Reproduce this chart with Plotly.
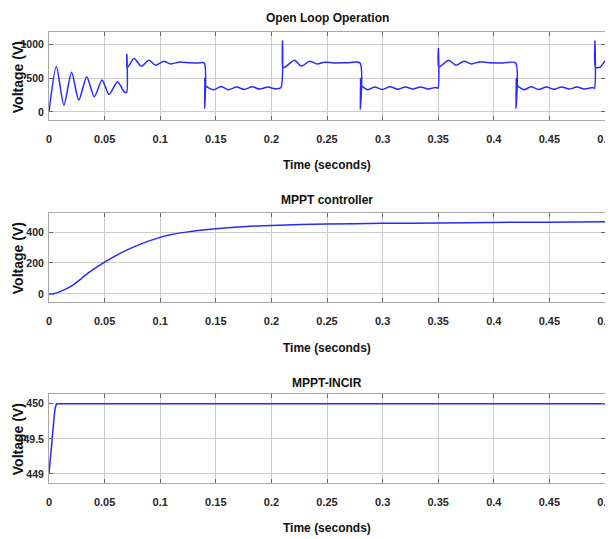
import plotly.graph_objects as go

# ---------------- data ----------------
x_ticks = [0, 0.05, 0.1, 0.15, 0.2, 0.25, 0.3, 0.35, 0.4, 0.45, 0.5]
x_tick_text = ["0", "0.05", "0.1", "0.15", "0.2", "0.25", "0.3", "0.35", "0.4", "0.45", "0.5"]

titles = ["Open Loop Operation", "MPPT controller", "MPPT-INCIR"]

# Open loop operation (time in s, voltage in V)
open_t = [0, 0.0066, 0.0134, 0.0203, 0.0268, 0.0339, 0.0407, 0.0477, 0.054, 0.0616, 0.0676, 0.0698,
          0.07, 0.0703, 0.0765, 0.083, 0.0899, 0.0959, 0.1033, 0.1093, 0.118, 0.126, 0.134, 0.1396,
          0.14, 0.1402, 0.1405, 0.148, 0.1548, 0.1613, 0.1688, 0.1754, 0.1828, 0.1895, 0.197, 0.203, 0.2085,
          0.21, 0.2103, 0.212, 0.2209, 0.2268, 0.2343, 0.2411, 0.2477, 0.256, 0.268, 0.2796,
          0.28, 0.2802, 0.2805, 0.2864, 0.2928, 0.2995, 0.3068, 0.3135, 0.3205, 0.3272, 0.3342, 0.341, 0.3475, 0.3498,
          0.3502, 0.3506, 0.3593, 0.366, 0.3732, 0.38, 0.387, 0.396, 0.408, 0.4196,
          0.42, 0.4202, 0.4205, 0.427, 0.4335, 0.4403, 0.4472, 0.454, 0.461, 0.4678, 0.4745, 0.4815, 0.4885, 0.4905,
          0.491, 0.4915, 0.4955, 0.5]
open_v = [0, 675, 100, 590, 175, 525, 225, 475, 260, 450, 300, 290,
          860, 655, 795, 680, 770, 695, 755, 715, 745, 732, 730, 730,
          55, 510, 395, 330, 380, 330, 370, 335, 375, 340, 370, 345, 360,
          1055, 665, 665, 770, 680, 755, 715, 740, 730, 732, 730,
          40, 500, 405, 330, 372, 335, 375, 338, 372, 340, 370, 342, 365, 355,
          945, 665, 770, 695, 755, 715, 745, 732, 730, 730,
          55, 500, 405, 330, 375, 335, 372, 338, 372, 340, 370, 342, 362, 355,
          1055, 665, 665, 765]

# MPPT controller
mppt_t = [0, 0.004, 0.01, 0.0215, 0.036, 0.05, 0.066, 0.0807, 0.0948, 0.109, 0.125, 0.15, 0.175, 0.2,
          0.25, 0.3, 0.35, 0.4, 0.45, 0.5]
mppt_v = [0, 2, 15, 57, 139, 205, 270, 317, 354, 382, 401, 421, 434, 443, 452, 456, 459, 462, 464, 467]

# MPPT-INCIR
incir_t = [0, 0.002, 0.004, 0.0055, 0.007, 0.01, 0.5]
incir_v = [449, 449.35, 449.7, 449.93, 450, 450, 450]

y_ticks = [[0, 500, 1000], [0, 200, 400], [449, 449.5, 450]]
y_tick_text = [["0", "500", "1000"], ["0", "200", "400"], ["449", "449.5", "450"]]
y_ranges = [[-120, 1190], [-52, 523], [448.87, 450.14]]

# ---------------- figure ----------------
# page body adds an 8px margin; figure sized to fill the rest of the 613x539 window
W, H = 605, 531
L, R = 41, 4
PW = W - L - R
fig = go.Figure()

line_color = "rgb(40,40,255)"
series = [(open_t, open_v), (mppt_t, mppt_v), (incir_t, incir_v)]
for i, (t, v) in enumerate(series):
    fig.add_trace(go.Scatter(
        x=t, y=v, mode="lines",
        line=dict(color=line_color, width=1.5, shape="spline", smoothing=0.7),
        xaxis="x" if i == 0 else f"x{i+1}",
        yaxis="y" if i == 0 else f"y{i+1}",
        showlegend=False, hoverinfo="skip"))

# pixel positions (figure coords) of plot areas (top, bottom)
panels_px = [(24, 112), (205, 294), (386, 475)]
title_px = [10.5, 192, 375]
xlabel_px = [157, 340, 520]
ylabel_px = [69, 250, 431]
center_x = 321  # horizontal centre of titles in figure px

base_font = "Liberation Sans, Arial, sans-serif"
xtick_font = dict(family=base_font, size=11, color="#262626", weight="bold")
ytick_font = dict(family=base_font, size=10.5, color="#262626", weight="bold")
grid_col = "#cccccc"
frame_col = "#a8a8a8"

layout = dict(width=W, height=H, margin=dict(l=L, r=R, t=0, b=0),
              paper_bgcolor="white", plot_bgcolor="white", annotations=[])

for i in range(3):
    top, bot = panels_px[i]
    xa = "xaxis" if i == 0 else f"xaxis{i+1}"
    ya = "yaxis" if i == 0 else f"yaxis{i+1}"
    anchor_y = "y" if i == 0 else f"y{i+1}"
    anchor_x = "x" if i == 0 else f"x{i+1}"
    layout[xa] = dict(domain=[0, 1], anchor=anchor_y, range=[0, 0.5],
                      tickvals=x_ticks, ticktext=x_tick_text, tickfont=xtick_font,
                      ticklabeloverflow="allow",
                      showgrid=True, gridcolor=grid_col, gridwidth=1, zeroline=False,
                      showline=True, linecolor=frame_col, linewidth=1, mirror="allticks",
                      ticks="inside", ticklen=4, tickcolor="#666666", ticklabelstandoff=9)
    layout[ya] = dict(domain=[1 - bot / H, 1 - top / H], anchor=anchor_x, range=y_ranges[i],
                      tickvals=y_ticks[i], ticktext=y_tick_text[i], tickfont=ytick_font,
                      ticklabeloverflow="allow",
                      showgrid=True, gridcolor=grid_col, gridwidth=1, zeroline=False,
                      showline=True, linecolor=frame_col, linewidth=1, mirror="allticks",
                      ticks="inside", ticklen=4, tickcolor="#666666", ticklabelstandoff=2)
    layout["annotations"].append(dict(
        text=titles[i], xref="paper", yref="paper", x=(center_x - L) / PW, y=1 - title_px[i] / H,
        showarrow=False, xanchor="center", yanchor="middle",
        font=dict(family=base_font, size=12, color="#111111", weight="bold")))
    layout["annotations"].append(dict(
        text="Time (seconds)", xref="paper", yref="paper", x=(center_x - L) / PW, y=1 - xlabel_px[i] / H,
        showarrow=False, xanchor="center", yanchor="middle",
        font=dict(family=base_font, size=12, color="#111111", weight="bold")))
    layout["annotations"].append(dict(
        text="Voltage (V)", xref="paper", yref="paper", x=(10 - L) / PW, y=1 - ylabel_px[i] / H,
        showarrow=False, xanchor="center", yanchor="middle", textangle=-90,
        font=dict(family=base_font, size=14, color="#111111", weight="bold")))

fig.update_layout(**layout)
fig.write_html("out.html")
